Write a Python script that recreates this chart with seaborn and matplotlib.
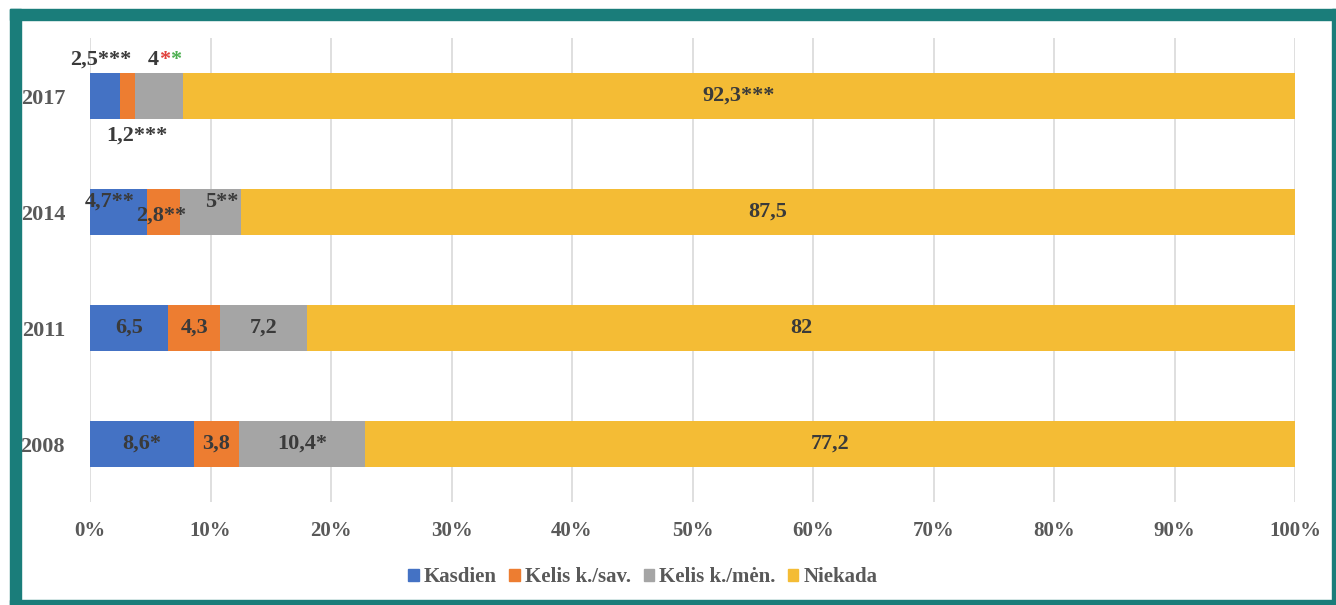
"""Stacked horizontal bars: frequency shares by survey year."""
import matplotlib.pyplot as plt
import numpy as np
import pandas as pd
import seaborn as sns
from matplotlib.patches import Rectangle

YEARS = ["2017", "2014", "2011", "2008"]
SERIES = ["Kasdien", "Kelis k./sav.", "Kelis k./mėn.", "Niekada"]
KASDIEN = [2.5, 4.7, 6.5, 8.6]
KELIS_SAV = [1.2, 2.8, 4.3, 3.8]
KELIS_MEN = [4.0, 5.0, 7.2, 10.4]
NIEKADA = [92.3, 87.5, 82.0, 77.2]
LABELS = [
    ["2,5***", "1,2***", "4", "92,3***"],
    ["4,7**", "2,8**", "5**", "87,5"],
    ["6,5", "4,3", "7,2", "82"],
    ["8,6*", "3,8", "10,4*", "77,2"],
]
COLORS = ["#4472C4", "#ED7D31", "#A5A5A5", "#F4BC35"]
TEXT = "#3a3a3a"
GREY = "#595959"
FONT = "Liberation Serif"

sns.set_theme(style="white")
plt.rcParams["font.family"] = [FONT, "DejaVu Serif"]
plt.rcParams["font.weight"] = "bold"

df = pd.DataFrame({"year": YEARS, "Kasdien": KASDIEN, "Kelis k./sav.": KELIS_SAV,
                   "Kelis k./mėn.": KELIS_MEN, "Niekada": NIEKADA})
cum = df[SERIES].cumsum(axis=1)

fig = plt.figure(figsize=(13.36, 6.05), dpi=100)
ax = fig.add_axes([90 / 1336, 1 - 502 / 605, 1205 / 1336, 464 / 605])

# draw cumulative totals from the widest down so each segment shows
for name, color in reversed(list(zip(SERIES, COLORS))):
    sns.barplot(x=cum[name], y=df["year"], order=YEARS, orient="h", color=color,
                width=0.4, saturation=1, ax=ax, linewidth=0, zorder=3)

ax.set_xlim(0, 100)
ax.set_ylim(3.5, -0.5)
ax.set_xticks(np.arange(0, 101, 10))
ax.set_xticklabels([f"{v}%" for v in range(0, 101, 10)])
ax.grid(axis="x", color="#d9d9d9", linewidth=1.2, zorder=0)
ax.grid(axis="y", visible=False)
for s in ax.spines.values():
    s.set_visible(False)
ax.set_xlabel("")
ax.set_ylabel("")
ax.tick_params(axis="x", labelsize=15, labelcolor=GREY, pad=14, length=0)
ax.tick_params(axis="y", labelsize=16, labelcolor=GREY, pad=18, length=0)

# segment labels
starts = cum.shift(axis=1, fill_value=0)
for i in range(len(YEARS)):
    for j, name in enumerate(SERIES):
        x = starts.iloc[i, j] + df[name].iloc[i] / 2
        y = i
        if i == 0 and j < 3:
            continue
        if i == 1 and j < 3:
            x, y = [(1.6, 0.91), (5.9, 1.03), (10.9, 0.91)][j]
        ax.text(x, y, LABELS[i][j], ha="center", va="center", fontsize=16,
                color=TEXT, fontweight="bold", zorder=5)

# 2017 labels sit outside the thin segments
ax.text(0.9, -0.31, LABELS[0][0], ha="center", va="center", fontsize=16, color=TEXT, zorder=5)
ax.text(3.9, 0.34, LABELS[0][1], ha="center", va="center", fontsize=16, color=TEXT, zorder=5)
t4 = ax.text(4.8, -0.31, LABELS[0][2], ha="left", va="center", fontsize=16, color=TEXT, zorder=5)
s1 = ax.annotate("*", xy=(1, 0), xycoords=t4, va="bottom", fontsize=16, color="#e0413c")
ax.annotate("*", xy=(1, 0), xycoords=s1, va="bottom", fontsize=16, color="#4caf50")

handles = [Rectangle((0, 0), 1, 1, color=c) for c in COLORS]
fig.legend(handles, SERIES, loc="center", bbox_to_anchor=(643 / 1336, 1 - 577 / 605),
           ncol=4, frameon=False, fontsize=15, labelcolor=GREY, handlelength=0.5,
           handleheight=0.5, handletextpad=0.25, columnspacing=0.6)

# teal frame
teal = "#1a7d7a"
for x0, y0, w, h in [(10, 0, 11, 596), (10, 585, 1326, 11), (1332, 0, 4, 596), (10, 0, 1326, 5)]:
    fig.patches.append(Rectangle((x0 / 1336, y0 / 605), w / 1336, h / 605,
                                 transform=fig.transFigure, color=teal, zorder=10))

fig.savefig("out.png", dpi=100)
